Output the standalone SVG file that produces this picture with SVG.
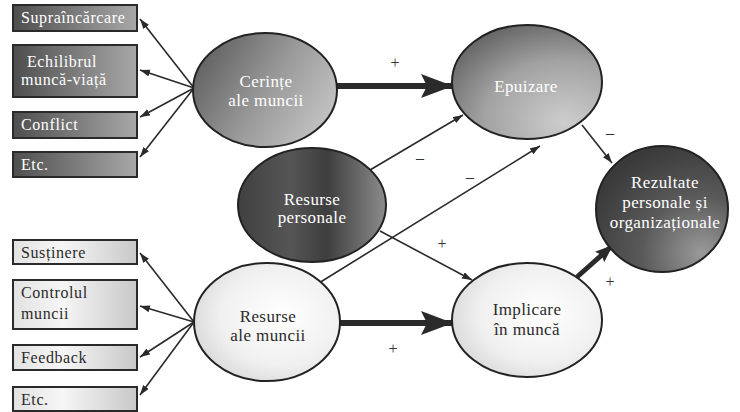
<svg xmlns="http://www.w3.org/2000/svg" width="740" height="412" viewBox="0 0 740 412" font-family="Liberation Serif, Times New Roman, serif">
<defs>
<linearGradient id="gBoxDark" x1="0" y1="0" x2="1" y2="0">
<stop offset="0" stop-color="#4e4e4e"/><stop offset="1" stop-color="#a8a8a8"/>
</linearGradient>
<linearGradient id="gBoxLight" x1="0" y1="0" x2="1" y2="0">
<stop offset="0" stop-color="#e2e2e2"/><stop offset="0.4" stop-color="#f6f6f6"/><stop offset="1" stop-color="#c8c8c8"/>
</linearGradient>
<linearGradient id="gMidGray" x1="0" y1="0.3" x2="1" y2="0.8">
<stop offset="0" stop-color="#616161"/><stop offset="0.5" stop-color="#9a9a9a"/><stop offset="1" stop-color="#c8c8c8"/>
</linearGradient>
<radialGradient id="gEpu" cx="0.75" cy="0.85" r="0.9">
<stop offset="0" stop-color="#cdcdcd"/><stop offset="0.6" stop-color="#a2a2a2"/><stop offset="1" stop-color="#6a6a6a"/>
</radialGradient>
<linearGradient id="gPers" x1="0" y1="0" x2="1" y2="0">
<stop offset="0" stop-color="#404040"/><stop offset="0.35" stop-color="#555555"/><stop offset="0.6" stop-color="#3e3e3e"/><stop offset="1" stop-color="#8c8c8c"/>
</linearGradient>
<radialGradient id="gLight" cx="0.6" cy="0.45" r="0.7">
<stop offset="0" stop-color="#ffffff"/><stop offset="0.6" stop-color="#f0f0f0"/><stop offset="1" stop-color="#d2d2d2"/>
</radialGradient>
<radialGradient id="gRez" cx="0.8" cy="0.85" r="0.9">
<stop offset="0" stop-color="#9a9a9a"/><stop offset="0.5" stop-color="#5a5a5a"/><stop offset="1" stop-color="#3a3a3a"/>
</radialGradient>
<marker id="ah" markerUnits="userSpaceOnUse" markerWidth="11" markerHeight="8" refX="10" refY="3.5" orient="auto">
<path d="M0,0 L10,3.5 L0,7 z" fill="#2a2a2a"/>
</marker>
<marker id="ahBig" markerUnits="userSpaceOnUse" markerWidth="34" markerHeight="26" refX="32" refY="12" orient="auto">
<path d="M0,0 L32,12 L0,24 L6,12 z" fill="#2a2a2a"/>
</marker>
<marker id="ahMid" markerUnits="userSpaceOnUse" markerWidth="20" markerHeight="16" refX="18" refY="7" orient="auto">
<path d="M0,0 L18,7 L0,14 L3,7 z" fill="#2a2a2a"/>
</marker>
</defs>

<g id="connectors" stroke="#2a2a2a" fill="none">
<g stroke-width="1.6" marker-end="url(#ah)">
<line x1="194" y1="88" x2="140" y2="19"/>
<line x1="194" y1="88" x2="140" y2="70"/>
<line x1="194" y1="88" x2="140" y2="117"/>
<line x1="194" y1="88" x2="140" y2="157"/>
<line x1="194" y1="322" x2="140" y2="253"/>
<line x1="194" y1="322" x2="140" y2="306"/>
<line x1="194" y1="322" x2="140" y2="357"/>
<line x1="194" y1="322" x2="140" y2="395"/>
<line x1="370" y1="170" x2="463" y2="115"/>
<line x1="319" y1="283" x2="540" y2="146"/>
<line x1="380" y1="231" x2="472" y2="280"/>
<line x1="582" y1="125" x2="612" y2="163"/>
</g>
<g stroke-width="6" marker-end="url(#ahBig)">
<line x1="337" y1="86" x2="453" y2="86"/>
<line x1="340" y1="323" x2="453" y2="323"/>
</g>
<line stroke-width="5" marker-end="url(#ahMid)" x1="577" y1="277" x2="613" y2="245"/>
</g>
<g id="signs" fill="#333333" font-family="Liberation Serif, Times New Roman, serif" font-size="16" text-anchor="middle">
<text x="395" y="68">+</text>
<text x="420" y="163">–</text>
<text x="470" y="182">–</text>
<text x="442" y="249">+</text>
<text x="393" y="354">+</text>
<text x="610" y="138">–</text>
<text x="610" y="287">+</text>
</g>

<g id="box-supraincarcare"><rect x="13" y="5" width="124" height="26" fill="url(#gBoxDark)" stroke="#2a2a2a" stroke-width="2"/><text font-family="Liberation Serif, Times New Roman, serif" font-size="16" fill="#ffffff" letter-spacing="0.6" x="21" y="23">Supraîncărcare</text></g>
<g id="box-echilibrul"><rect x="13" y="45" width="124" height="52" fill="url(#gBoxDark)" stroke="#2a2a2a" stroke-width="2"/><text font-family="Liberation Serif, Times New Roman, serif" font-size="16" fill="#ffffff" letter-spacing="0.6" x="27" y="67">Echilibrul</text><text font-family="Liberation Serif, Times New Roman, serif" font-size="16" fill="#ffffff" letter-spacing="0.6" x="21" y="85">muncă-viață</text></g>
<g id="box-conflict"><rect x="13" y="112" width="124" height="26" fill="url(#gBoxDark)" stroke="#2a2a2a" stroke-width="2"/><text font-family="Liberation Serif, Times New Roman, serif" font-size="16" fill="#ffffff" letter-spacing="0.6" x="21" y="130">Conflict</text></g>
<g id="box-etc1"><rect x="13" y="152" width="124" height="25" fill="url(#gBoxDark)" stroke="#2a2a2a" stroke-width="2"/><text font-family="Liberation Serif, Times New Roman, serif" font-size="16" fill="#ffffff" letter-spacing="0.6" x="21" y="170">Etc.</text></g>

<g id="box-sustinere"><rect x="13" y="240" width="124" height="24" fill="url(#gBoxLight)" stroke="#2a2a2a" stroke-width="2"/><text font-family="Liberation Serif, Times New Roman, serif" font-size="16" fill="#2a2a2a" letter-spacing="0.6" x="21" y="258">Susținere</text></g>
<g id="box-controlul"><rect x="13" y="280" width="124" height="49" fill="url(#gBoxLight)" stroke="#2a2a2a" stroke-width="2"/><text font-family="Liberation Serif, Times New Roman, serif" font-size="16" fill="#2a2a2a" letter-spacing="0.6" x="21" y="298">Controlul</text><text font-family="Liberation Serif, Times New Roman, serif" font-size="16" fill="#2a2a2a" letter-spacing="0.6" x="21" y="319">muncii</text></g>
<g id="box-feedback"><rect x="13" y="345" width="124" height="25" fill="url(#gBoxLight)" stroke="#2a2a2a" stroke-width="2"/><text font-family="Liberation Serif, Times New Roman, serif" font-size="16" fill="#2a2a2a" letter-spacing="0.6" x="21" y="363">Feedback</text></g>
<g id="box-etc2"><rect x="13" y="387" width="124" height="24" fill="url(#gBoxLight)" stroke="#2a2a2a" stroke-width="2"/><text font-family="Liberation Serif, Times New Roman, serif" font-size="16" fill="#2a2a2a" letter-spacing="0.6" x="21" y="405">Etc.</text></g>

<g id="node-cerinte"><ellipse cx="265" cy="90" rx="72" ry="57" fill="url(#gMidGray)" stroke="#222" stroke-width="2"/><text font-family="Liberation Serif, Times New Roman, serif" font-size="17" fill="#ffffff" text-anchor="middle" letter-spacing="0.4" x="266" y="87">Cerințe</text><text font-family="Liberation Serif, Times New Roman, serif" font-size="17" fill="#ffffff" text-anchor="middle" letter-spacing="0.4" x="266" y="106">ale muncii</text></g>
<g id="node-epuizare"><ellipse cx="527" cy="82" rx="75" ry="57" fill="url(#gEpu)" stroke="#222" stroke-width="2"/><text font-family="Liberation Serif, Times New Roman, serif" font-size="17" fill="#ffffff" text-anchor="middle" letter-spacing="0.4" x="526" y="92">Epuizare</text></g>
<g id="node-resurse-personale"><ellipse cx="312" cy="205" rx="74" ry="57" fill="url(#gPers)" stroke="#222" stroke-width="2"/><text font-family="Liberation Serif, Times New Roman, serif" font-size="17" fill="#ffffff" text-anchor="middle" letter-spacing="0.4" x="312" y="205">Resurse</text><text font-family="Liberation Serif, Times New Roman, serif" font-size="17" fill="#ffffff" text-anchor="middle" letter-spacing="0.4" x="312" y="223">personale</text></g>
<g id="node-resurse-muncii"><ellipse cx="267" cy="322" rx="73" ry="59" fill="url(#gLight)" stroke="#222" stroke-width="2"/><text font-family="Liberation Serif, Times New Roman, serif" font-size="17" fill="#2a2a2a" text-anchor="middle" letter-spacing="0.4" x="268" y="322">Resurse</text><text font-family="Liberation Serif, Times New Roman, serif" font-size="17" fill="#2a2a2a" text-anchor="middle" letter-spacing="0.4" x="268" y="341">ale muncii</text></g>
<g id="node-implicare"><ellipse cx="527" cy="320" rx="75" ry="57" fill="url(#gLight)" stroke="#222" stroke-width="2"/><text font-family="Liberation Serif, Times New Roman, serif" font-size="17" fill="#2a2a2a" text-anchor="middle" letter-spacing="0.4" x="527" y="315">Implicare</text><text font-family="Liberation Serif, Times New Roman, serif" font-size="17" fill="#2a2a2a" text-anchor="middle" letter-spacing="0.4" x="527" y="335">în muncă</text></g>
<g id="node-rezultate"><ellipse cx="662" cy="209" rx="66" ry="63" fill="url(#gRez)" stroke="#222" stroke-width="2"/><text font-family="Liberation Serif, Times New Roman, serif" font-size="17" fill="#ffffff" text-anchor="middle" letter-spacing="0.4" x="665" y="188">Rezultate</text><text font-family="Liberation Serif, Times New Roman, serif" font-size="17" fill="#ffffff" text-anchor="middle" letter-spacing="0.4" x="665" y="208">personale și</text><text font-family="Liberation Serif, Times New Roman, serif" font-size="17" fill="#ffffff" text-anchor="middle" letter-spacing="0.4" x="665" y="228">organizaționale</text></g>
</svg>
